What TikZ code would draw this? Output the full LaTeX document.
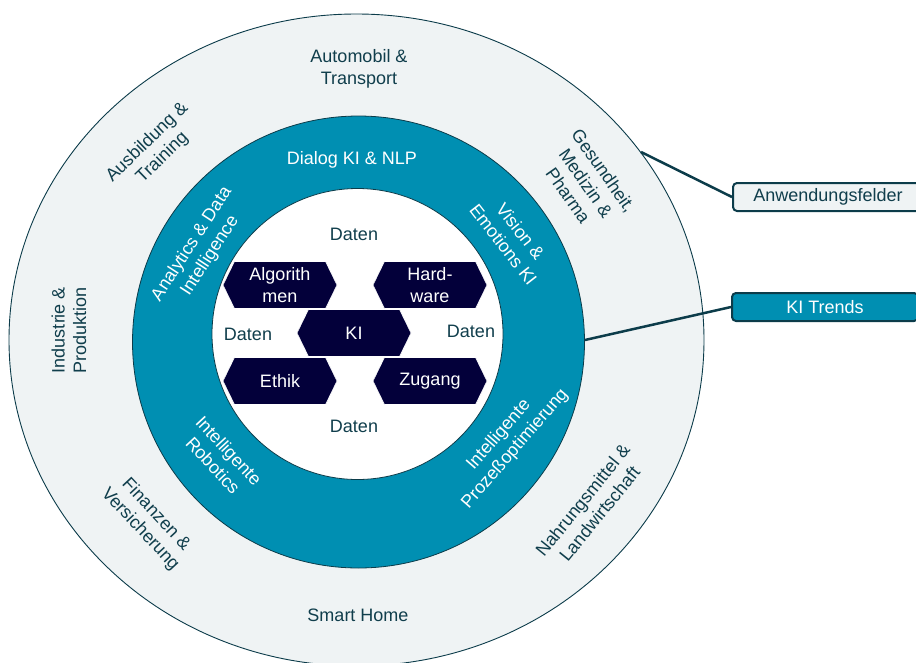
\documentclass[tikz,border=0pt]{standalone}
\usepackage{fontspec}
\setmainfont{Liberation Sans}
\usetikzlibrary{shapes.symbols}
\definecolor{ringfill}{HTML}{EFF3F4}
\definecolor{darkline}{HTML}{0C3C4A}
\definecolor{tealring}{HTML}{008FB2}
\definecolor{navy}{HTML}{03003A}
\definecolor{txtdark}{HTML}{103E4C}
\begin{document}
\begin{tikzpicture}[x=1pt,y=-1pt,
  lbl/.style={font=\fontsize{18pt}{21.6pt}\selectfont, align=center, inner sep=0pt},
  darktxt/.style={lbl, text=txtdark},
  whitetxt/.style={lbl, text=white},
  hexa/.style={signal, signal to=east and west, signal pointer angle=128,
    fill=navy, draw=white, line width=0.6pt, minimum width=114pt,
    minimum height=47pt, inner sep=0pt, text=white, align=center,
    font=\fontsize{18pt}{21.6pt}\selectfont},
  tagbox/.style={draw=darkline, line width=2pt, rounded corners=4pt,
    minimum height=28pt, inner sep=0pt, font=\fontsize{18pt}{21.6pt}\selectfont},
  connector/.style={draw=darkline, line width=2.5pt}]
\useasboundingbox (0,0) rectangle (916,662);
\clip (0,0) rectangle (916,662);
\fill[white] (0,0) rectangle (916,662);
% rings
\draw[darkline, line width=0.9pt, fill=ringfill] (356.5,340) ellipse [x radius=347.5pt, y radius=326pt];
\draw[darkline, line width=0.8pt, fill=tealring] (358.5,342) circle [radius=226pt];
\draw[darkline, line width=0.8pt, fill=white] (357.5,334) circle [radius=145.5pt];
% outer ring labels
\node[darktxt] (auto) at (359,69) {Automobil \&\\Transport};
\node[darktxt, rotate=44] (ausb) at (155,150) {Ausbildung \&\\Training};
\node[darktxt, rotate=90] (indu) at (69,330) {Industrie \&\\Produktion};
\node[darktxt, rotate=-47] (fin) at (148,522) {Finanzen \&\\Versicherung};
\node[darktxt] (smart) at (358,615) {Smart Home};
\node[darktxt, rotate=51] (nahr) at (591,507) {Nahrungsmittel \&\\Landwirtschaft};
\node[darktxt, rotate=-55] (ges) at (586,183) {Gesundheit,\\Medizin \&\\Pharma};
% teal ring labels
\node[whitetxt] (dialog) at (352,160) {Dialog KI \& NLP};
\node[whitetxt, rotate=57] (anal) at (201,250) {Analytics \& Data\\Intelligence};
\node[whitetxt, rotate=-52] (vis) at (512,238) {Vision \&\\Emotions KI};
\node[whitetxt, rotate=-47] (rob) at (221,458) {Intelligente\\Robotics};
\node[whitetxt, rotate=49] (proz) at (507,442) {Intelligente\\Prozeßoptimierung};
% inner
\node[darktxt] (dtop) at (354,234) {Daten};
\node[darktxt] (dleft) at (248,334) {Daten};
\node[darktxt] (dright) at (471,331) {Daten};
\node[darktxt] (dbot) at (354,426) {Daten};
\node[hexa] (algo) at (280,285) {Algorith\\men};
\node[hexa] (hard) at (430,285) {Hard-\\ware};
\node[hexa] (ki) at (354,333) {KI};
\node[hexa] (ethik) at (280,381) {Ethik};
\node[hexa] (zug) at (430,381) {Zugang};
% callouts
\coordinate (anwPt) at (641,152);
\coordinate (kiPt) at (585,340);
\node[tagbox, fill=ringfill, text=txtdark, minimum width=190pt] (anw) at (828,197) {Anwendungsfelder};
\node[tagbox, fill=tealring, text=white, minimum width=186pt] (kit) at (825,307) {KI Trends};
\draw[connector] (anwPt) -- (anw.west);
\draw[connector] (kiPt) -- (kit.west);
\end{tikzpicture}
\end{document}
